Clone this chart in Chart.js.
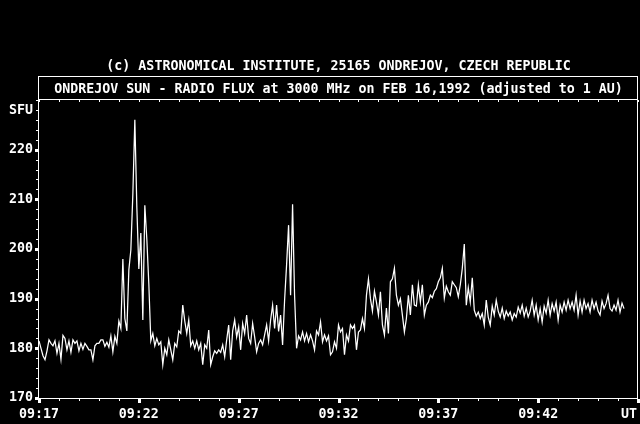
<!DOCTYPE html>
<html><head><meta charset="utf-8">
<script src="https://cdn.jsdelivr.net/npm/chart.js@4/dist/chart.umd.min.js"></script>
<style>html,body{margin:0;padding:0;background:#000;overflow:hidden}</style>
</head><body>
<canvas id="c" width="640" height="424"></canvas>
<script>
const copyrightLine = "(c) ASTRONOMICAL INSTITUTE, 25165 ONDREJOV, CZECH REPUBLIC";
const titleLine = "ONDREJOV SUN - RADIO FLUX at 3000 MHz on FEB 16,1992 (adjusted to 1 AU)";
const yUnit = "SFU";
const xUnit = "UT";
const sampleStepMin = 0.1;            // one sample every 6 s
const xTickMinutes = [0, 5, 10, 15, 20, 25];
const xTickLabels = ["09:17", "09:22", "09:27", "09:32", "09:37", "09:42"];
const xUnitTick = 29.55;
const yTicks = [170, 180, 190, 200, 210, 220];

const flux = [
181.5,180,178.5,177.7,179.5,181.7,181,180.5,181.5,179,
181,177.8,182.6,182,179.7,181.5,179.2,181.7,181,181.5,
179.5,181,179.8,181,180.4,179.7,179.7,177.7,180.5,181,
181,181.7,181.7,180.4,181.2,180.2,182.5,179.3,182.4,181,
185.5,184,198,186,183.5,195.8,199.8,211,226,208.4,
196,203.2,185.7,208.8,202,193,181.5,183,180.5,182,
180.7,181.3,176.7,180,178.7,181.7,179.7,177.7,181,180.3,
183.5,183,188.7,185.5,183,185.7,180.5,181.5,180,181.5,
179.7,181,176.7,180.7,180,183.7,176.7,178.3,179.5,179,
179.7,179.2,180.7,178.3,181.7,184.7,177.7,183.5,185.7,182.3,
184.3,179.7,185,183,186.7,182,181,185,182.3,179.3,
181,181.7,180.7,182.7,184.7,181.5,185.7,188.7,184,188.7,
183.4,186.7,180.7,189.7,196.8,204.8,190.7,209,190.7,180,
182.5,181.7,183.3,181.5,183,181.3,182.7,181.5,179.7,183.5,
182.7,185.3,181.3,182.7,181.5,182.5,178.7,179.3,181.3,180,
184.7,183.3,184,178.7,182.7,181.5,184.7,184,184.7,179.7,
183.3,183.7,186,184,190.7,194,190,187.5,191.5,189.3,
186.7,191.4,184.7,182.7,188.1,183,193.4,194,196.1,190.7,
188.7,190,186.7,183.3,186,190.7,186.7,192.8,188.7,188.5,
192.8,189.3,192.8,186.7,188.7,189.3,190.7,190.2,191.5,192,
193.4,194.2,196.1,190.1,192.5,191.4,190.7,193.4,192.8,192.2,
190.4,192.8,196.1,201,188.7,192.2,189.3,194.2,187.7,186.5,
187.3,186,187,184.7,189.7,186.3,184.7,188.5,186.7,189.7,
187.5,186.3,188.1,186,187.5,186.5,187.3,185.7,187,186.3,
188.3,187.1,188.7,186.5,188.1,186.3,187.5,189.7,186.7,188.7,
185.7,188,185.3,188.5,187.1,189.7,186.7,189,187.5,189.3,
185.7,188.7,187.3,189.3,187.7,189.7,188,189.3,187.7,190.7,
186.7,189.5,187.3,189.7,188,189,187.3,189.7,188,189.3,
187.5,186.7,189.5,188,189,190.7,188,187.5,188.7,187.7,
189.7,187.3,189.1,188
];

const points = flux.map((v, i) => ({ x: i * sampleStepMin, y: v }));
const FONT = { family: "'DejaVu Sans Mono', monospace", size: 13.3, weight: 'bold' };

const decor = {
  id: 'decor',
  beforeDraw(chart) {
    const ctx = chart.ctx;
    ctx.save();
    ctx.fillStyle = '#000';
    ctx.fillRect(0, 0, chart.width, chart.height);
    ctx.restore();
  },
  afterDraw(chart) {
    const ctx = chart.ctx;
    const a = chart.chartArea;
    const xs = chart.scales.x, ys = chart.scales.y;
    const L = Math.round(a.left), R = Math.round(a.right), T = Math.round(a.top), B = Math.round(a.bottom);
    ctx.save();
    ctx.strokeStyle = '#fff';
    ctx.fillStyle = '#fff';
    ctx.lineWidth = 1;
    ctx.strokeRect(L - 0.5, T + 0.5, R - L, B - T);
    ctx.strokeRect(L - 0.5, 76.5, R - L, T - 76);
    ctx.font = "bold 13.3px 'DejaVu Sans Mono', monospace";
    ctx.textAlign = 'center';
    ctx.textBaseline = 'alphabetic';
    const cx = (L + R) / 2;
    ctx.fillText(copyrightLine, cx, 69.5);
    ctx.fillText(titleLine, cx, 92.5);
    ctx.textAlign = 'right';
    ctx.fillText(yUnit, 33, 113.5);
    for (let m = 0; m <= 30; m++) {
      const px = Math.round(xs.getPixelForValue(m));
      ctx.fillRect(px, B + 1, 1, 2);
      ctx.fillRect(px, T + 1, 1, 2);
    }
    [...xTickMinutes, 30].forEach(m => {
      const px = Math.round(xs.getPixelForValue(m));
      ctx.fillRect(px - 1, B + 1, 3, 4);
    });
    for (let v = 170; v <= 230; v += 2) {
      const py = Math.round(ys.getPixelForValue(v));
      ctx.fillRect(L - 3, py, 2, 1);
    }
    yTicks.forEach(v => {
      const py = Math.round(ys.getPixelForValue(v));
      ctx.fillRect(L - 4, py - 1, 3, 3);
    });
    ctx.restore();
  }
};

new Chart(document.getElementById('c'), {
  type: 'line',
  data: { datasets: [{ data: points, borderColor: '#fff', borderWidth: 1.25, pointRadius: 0, tension: 0, fill: false }] },
  options: {
    responsive: false,
    animation: false,
    devicePixelRatio: 1,
    layout: { padding: { top: 99, right: 2, left: 0, bottom: 0 } },
    plugins: { legend: { display: false }, tooltip: { enabled: false }, title: { display: false } },
    scales: {
      x: {
        type: 'linear', min: 0, max: 30,
        grid: { display: false, drawTicks: false },
        border: { display: false },
        afterBuildTicks(s) { s.ticks = [...xTickMinutes, xUnitTick].map(v => ({ value: v })); },
        afterFit(s) { s.height = 26; s.paddingLeft = 0; s.paddingRight = 0; },
        ticks: {
          color: '#fff', font: FONT, padding: 9, autoSkip: false, maxRotation: 0,
          callback: (v, i) => i < xTickLabels.length ? xTickLabels[i] : xUnit
        }
      },
      y: {
        type: 'linear', min: 170, max: 230.2,
        grid: { display: false, drawTicks: false },
        border: { display: false },
        afterBuildTicks(s) { s.ticks = yTicks.map(v => ({ value: v })); },
        afterFit(s) { s.width = 39; },
        ticks: { color: '#fff', font: FONT, padding: 6, callback: v => String(v) }
      }
    }
  },
  plugins: [decor]
});
</script>
</body></html>
